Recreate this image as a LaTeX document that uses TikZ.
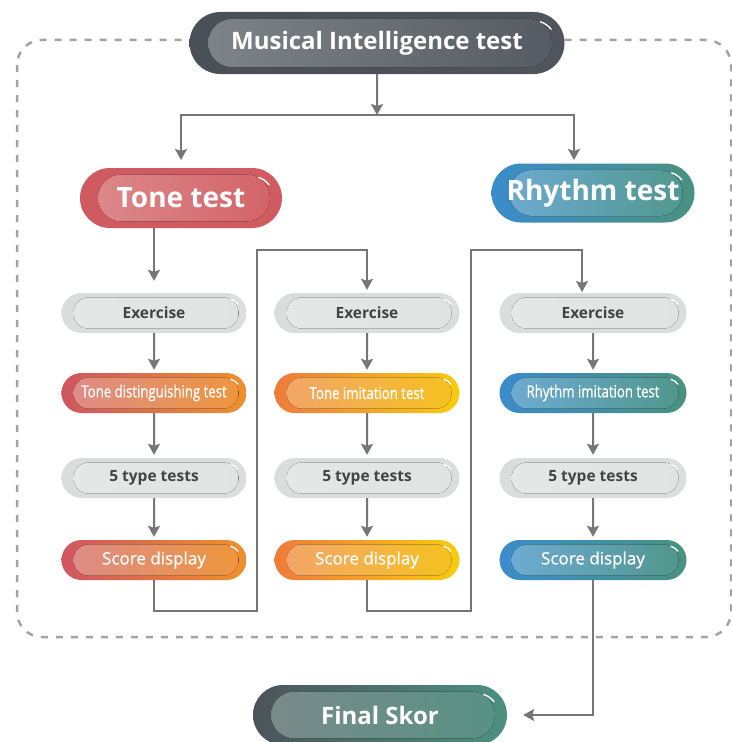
\documentclass[tikz,border=0pt]{standalone}
\usepackage{fontspec}
\setmainfont{Open Sans}
\newfontfamily\condfont[FakeStretch=0.8, FakeBold=0.8]{Open Sans}
\newfontfamily\medfont[FakeBold=0.8]{Open Sans}
\usetikzlibrary{arrows.meta,shapes.misc}

\definecolor{linegray}{HTML}{767676}
\definecolor{dashgray}{HTML}{A3A3A3}
\definecolor{labelgray}{HTML}{444444}
% outer / inner colours of the pills
\definecolor{darkL}{HTML}{4A5057}\definecolor{darkR}{HTML}{4E555C}
\definecolor{darkinL}{HTML}{7E868B}\definecolor{darkinR}{HTML}{535A61}
\definecolor{redL}{HTML}{CF5A60}\definecolor{redR}{HTML}{D05C61}
\definecolor{redinL}{HTML}{DD8B8E}\definecolor{redinR}{HTML}{D26266}
\definecolor{blueL}{HTML}{3A8CCB}\definecolor{blueR}{HTML}{4A917F}
\definecolor{blueinL}{HTML}{6FACD6}\definecolor{blueinR}{HTML}{4F968A}
\definecolor{greyL}{HTML}{DBDCDC}\definecolor{greyR}{HTML}{DCDDDD}
\definecolor{greyinL}{HTML}{E6E7E7}\definecolor{greyinR}{HTML}{E1E2E2}
\definecolor{roL}{HTML}{CF5660}\definecolor{roR}{HTML}{EF902C}
\definecolor{roinL}{HTML}{DD8B8C}\definecolor{roinR}{HTML}{EE963A}
\definecolor{oyL}{HTML}{EE7B3B}\definecolor{oyR}{HTML}{F9CB0F}
\definecolor{oyinL}{HTML}{F2A46E}\definecolor{oyinR}{HTML}{F6C21C}
\definecolor{fsL}{HTML}{4C535A}\definecolor{fsR}{HTML}{4C9182}
\definecolor{fsinL}{HTML}{7C8A8A}\definecolor{fsinR}{HTML}{569283}

\tikzset{
  pill/.style n args={6}{rounded rectangle, inner sep=0pt,
    minimum width=#1, minimum height=#2, left color=#3, right color=#4,
    path picture={
      \fill[left color=#5, right color=#6, rounded corners=0.39*#2]
        ([xshift=0.3*#2, yshift=0.11*#2]path picture bounding box.south west) rectangle
        ([xshift=-0.2*#2, yshift=-0.11*#2]path picture bounding box.north east);
      \draw[white, line width=1.4bp, line cap=round]
        ([xshift=-0.5*#2]path picture bounding box.east) ++(72:0.36*#2)
        arc[start angle=72, end angle=38, radius=0.36*#2];
    }},
  titletext/.style={text=white, font=\fontsize{24bp}{28bp}\selectfont\bfseries},
  headtext/.style={text=white, font=\fontsize{28bp}{32bp}\selectfont\bfseries},
  greytext/.style={text=labelgray, font=\fontsize{15.5bp}{18bp}\selectfont\bfseries},
  condtext/.style={text=white, font=\condfont\fontsize{16.5bp}{19bp}\selectfont},
  scoretext/.style={text=white, font=\medfont\fontsize{17bp}{20bp}\selectfont},
  conn/.style={draw=linegray, line width=2bp},
  arr/.style={conn, -{Stealth[length=11bp, width=12bp, inset=2bp]}, shorten >=3bp},
}

\begin{document}
\begin{tikzpicture}[x=1bp, y=-1bp]
  \useasboundingbox (0,0) rectangle (732,742);
  % frame round the two tests
  \draw[dashgray, line width=2.5bp, dash pattern=on 7bp off 8bp, rounded corners=25bp]
    (17,40) rectangle (731,637);

  \node[pill={375bp}{62bp}{darkL}{darkR}{darkinL}{darkinR}, titletext] (musical) at (377,43) {Musical Intelligence test};
  \node[pill={202bp}{60bp}{redL}{redR}{redinL}{redinR}, headtext] (tone) at (181,198) {Tone test};
  \node[pill={203bp}{59bp}{blueL}{blueR}{blueinL}{blueinR}, headtext] (rhythm) at (593,193) {Rhythm test};

  % column 1
  \node[pill={185bp}{40bp}{greyL}{greyR}{greyinL}{greyinR}, greytext] (ex1) at (154,313) {Exercise};
  \node[pill={185bp}{40bp}{roL}{roR}{roinL}{roinR}, condtext] (dist) at (154,393) {Tone distinguishing test};
  \node[pill={185bp}{40bp}{greyL}{greyR}{greyinL}{greyinR}, greytext] (types1) at (154,478) {5 type tests};
  \node[pill={185bp}{40bp}{roL}{roR}{roinL}{roinR}, scoretext] (score1) at (154,560) {Score display};
  % column 2
  \node[pill={185bp}{40bp}{greyL}{greyR}{greyinL}{greyinR}, greytext] (ex2) at (367,313) {Exercise};
  \node[pill={185bp}{40bp}{oyL}{oyR}{oyinL}{oyinR}, condtext] (imit) at (367,393) {Tone imitation test};
  \node[pill={185bp}{40bp}{greyL}{greyR}{greyinL}{greyinR}, greytext] (types2) at (367,478) {5 type tests};
  \node[pill={185bp}{40bp}{oyL}{oyR}{oyinL}{oyinR}, scoretext] (score2) at (367,560) {Score display};
  % column 3
  \node[pill={187bp}{40bp}{greyL}{greyR}{greyinL}{greyinR}, greytext] (ex3) at (593,313) {Exercise};
  \node[pill={187bp}{40bp}{blueL}{blueR}{blueinL}{blueinR}, condtext] (rimit) at (593,393) {Rhythm imitation test};
  \node[pill={187bp}{40bp}{greyL}{greyR}{greyinL}{greyinR}, greytext] (types3) at (593,478) {5 type tests};
  \node[pill={187bp}{40bp}{blueL}{blueR}{blueinL}{blueinR}, scoretext] (score3) at (593,560) {Score display};

  \node[pill={254bp}{60bp}{fsL}{fsR}{fsinL}{fsinR}, titletext] (final) at (380,715) {Final Skor};

  \coordinate (split) at (377,115);
  \coordinate (tonein) at (181,160);
  \coordinate (rhythmin) at (574,160);
  \coordinate (down1) at (257,611);
  \coordinate (up1) at (257,250);
  \coordinate (down2) at (471,611);
  \coordinate (up2) at (471,250);
  \coordinate (ex3in) at (582,292);

  \draw[arr, shorten >=0bp] (musical) -- (split);
  \draw[arr, shorten >=0bp] (split) -| (tonein);
  \draw[arr, shorten >=0bp] (split) -| (rhythmin);
  \draw[arr, shorten >=12bp] (tone.south -| ex1.north) -- (ex1.north);
  \foreach \a/\b in {ex1/dist,dist/types1,types1/score1,ex2/imit,imit/types2,types2/score2,ex3/rimit,rimit/types3,types3/score3}
    \draw[arr] (\a) -- (\b);
  \draw[arr] (score1.south) |- (down1) -- (up1) -| (ex2.north);
  \draw[arr, shorten >=0bp] (score2.south) |- (down2) -- (up2) -| (ex3in);
  \draw[arr, shorten >=16bp] (score3.south) |- (final.east);
\end{tikzpicture}
\end{document}
